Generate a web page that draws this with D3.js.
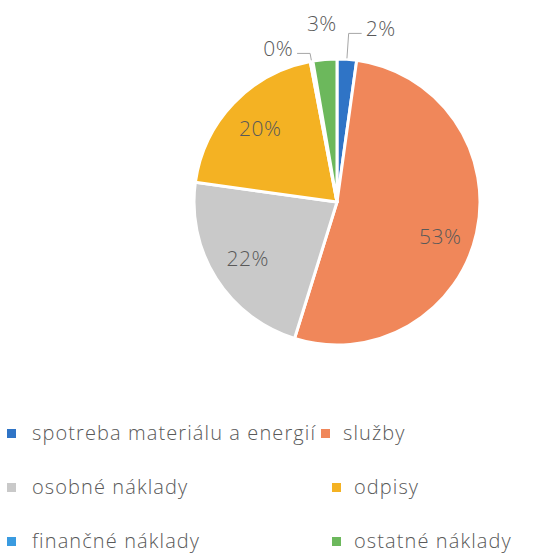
<!DOCTYPE html>
<html lang="sk">
<head>
<meta charset="UTF-8">
<title>Štruktúra nákladov</title>
<script src="https://d3js.org/d3.v7.min.js"></script>
<style>
  body { margin: 0; background: #fff; }
  text { font-family: "Open Sans", Lato, sans-serif; font-weight: 300; fill: #595959; }
</style>
</head>
<body>
<div id="chart"></div>
<script>
  const categories = ["spotreba materiálu a energií", "služby", "osobné náklady", "odpisy", "finančné náklady", "ostatné náklady"];
  const values = [2.2, 52.6, 22.4, 19.8, 0.3, 2.7];
  const labels = ["2%", "53%", "22%", "20%", "0%", "3%"];
  const colors = ["#2f74c6", "#f0875a", "#c9c9c9", "#f4b223", "#3a9be0", "#6cb85c"];

  const W = 544, H = 554;
  const cx = 337, cy = 202, R = 143;

  const svg = d3.select("#chart").append("svg")
      .attr("width", W)
      .attr("height", H);

  const data = categories.map((c, i) => ({name: c, value: values[i], label: labels[i], color: colors[i]}));

  const pie = d3.pie().sort(null).value(d => d.value);
  const arcs = pie(data);
  const arc = d3.arc().innerRadius(0).outerRadius(R);
  const inner = d3.arc().innerRadius(R * 0.74).outerRadius(R * 0.74);

  const g = svg.append("g").attr("transform", `translate(${cx},${cy})`);

  g.selectAll("path.slice")
    .data(arcs)
    .enter().append("path")
      .attr("class", "slice")
      .attr("d", arc)
      .attr("fill", d => d.data.color)
      .attr("stroke", "#fff")
      .attr("stroke-width", 3)
      .attr("stroke-linejoin", "round");

  // big slices: label inside
  g.selectAll("text.inner")
    .data(arcs.filter(d => d.data.value >= 5))
    .enter().append("text")
      .attr("class", "inner")
      .attr("transform", d => `translate(${inner.centroid(d)})`)
      .attr("text-anchor", "middle")
      .attr("dy", d => d.data.value > 50 ? "0.9em" : "0.35em")
      .style("font-size", "21px")
      .style("letter-spacing", "0.5px")
      .text(d => d.data.label);

  // small slices: label outside, some with a leader line
  const withLeader = new Set(["spotreba materiálu a energií", "finančné náklady"]);
  const polar = (a, r) => [r * Math.sin(a), -r * Math.cos(a)];

  arcs.filter(d => d.data.value < 5).forEach(d => {
    const a = (d.startAngle + d.endAngle) / 2;
    if (withLeader.has(d.data.name)) {
      const side = Math.sin(a) >= 0 ? 1 : -1;
      const p0 = polar(a, R + 1);
      const p1 = polar(a, side > 0 ? R + 26 : R + 8);
      const p2 = [p1[0] + side * 13, p1[1]];
      g.append("polyline")
        .attr("points", [p0, p1, p2].map(p => p.join(",")).join(" "))
        .attr("fill", "none")
        .attr("stroke", "#a6a6a6")
        .attr("stroke-width", 1);
      g.append("text")
        .attr("x", p2[0] + side * 4)
        .attr("y", p2[1] - 5)
        .attr("text-anchor", side > 0 ? "start" : "end")
        .attr("dy", "0.35em")
        .style("font-size", "21px")
        .style("letter-spacing", "0.5px")
        .text(d.data.label);
    } else {
      const p = polar(a, R + 36);
      g.append("text")
        .attr("x", p[0])
        .attr("y", p[1])
        .attr("text-anchor", "middle")
        .attr("dy", "0.35em")
        .style("font-size", "21px")
        .style("letter-spacing", "0.5px")
        .text(d.data.label);
    }
  });

  // legend, 2 columns x 3 rows
  const rowY = [433, 487, 541];
  const legend = svg.append("g");
  data.forEach((d, i) => {
    const row = Math.floor(i / 2), col = i % 2;
    const x = col === 0 ? 7 : (row === 0 ? 321 : 332);
    const item = legend.append("g").attr("transform", `translate(${x},${rowY[row]})`);
    item.append("rect")
      .attr("x", 0).attr("y", -4)
      .attr("width", 9).attr("height", 9)
      .attr("fill", d.color);
    item.append("text")
      .attr("x", col === 0 ? 25 : 22)
      .attr("dy", "0.35em")
      .style("font-size", "20px")
      .style("letter-spacing", "1.1px")
      .text(d.name);
  });
</script>
</body>
</html>
